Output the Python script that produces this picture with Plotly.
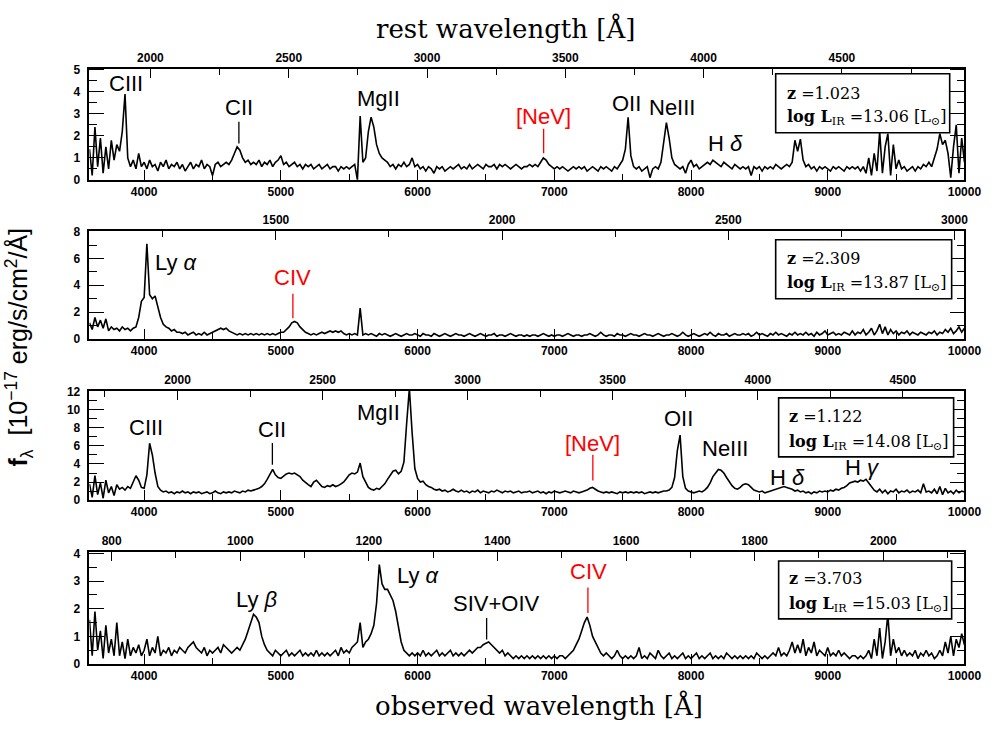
import plotly.graph_objects as go

W, H = 1007, 730

# ---------------- data ----------------
redshift = [1.023, 2.309, 1.122, 3.703]
log_lir = ["13.06", "13.87", "14.08", "15.03"]
wavelength_obs = list(range(3600, 10001, 20))  # observed-frame sampling [Angstrom]

flux_z1023 = [
    1.4, 0.2, 2.4, 0.6, 1.9, 0.3, 1.5, 0.5, 1.8, 0.9, 1.6, 1.3, 2.2, 3.9, 1.0, 0.6, 0.9, 0.5, 1.2, 0.6,
    0.8, 0.5, 0.9, 0.6, 0.7, 0.4, 0.8, 0.6, 0.9, 0.5, 0.7, 0.6, 0.8, 0.5, 0.7, 0.4, 0.6, 0.8, 0.5, 0.7,
    0.6, 0.9, 0.5, 0.7, 0.6, 0.2, 0.7, 0.8, 0.6, 0.7, 0.8, 0.7, 0.9, 1.2, 1.5, 1.35, 1.0, 0.8, 0.9, 0.7,
    0.8, 0.7, 0.9, 0.6, 0.8, 0.7, 0.9, 0.6, 0.8, 0.9, 1.1, 0.7, 0.8, 0.6, 0.7, 0.8, 0.6, 0.7, 0.5, 0.7,
    0.6, 0.7, 0.5, 0.6, 0.7, 0.5, 0.6, 0.7, 0.5, 0.6, 0.6, 0.4, 0.6, 0.5, 0.6, 0.5, 0.6, 0.7, 0.0, 2.9,
    0.8, 1.0, 2.2, 2.85, 2.4, 1.6, 1.2, 1.0, 0.9, 0.8, 0.6, 0.7, 0.5, 0.7, 0.6, 0.8, 0.6, 0.7, 1.0, 0.6,
    0.7, 0.5, 0.6, 0.4, 0.6, 0.5, 0.3, 0.6, 0.5, 0.6, 0.4, 0.5, 0.6, 0.5, 0.6, 0.7, 0.5, 0.6, 0.5, 0.7,
    0.5, 0.6, 0.7, 0.6, 0.5, 0.7, 0.6, 0.6, 0.7, 0.5, 0.7, 0.6, 0.7, 0.6, 0.5, 0.6, 0.7, 0.6, 0.5, 0.6,
    0.6, 0.7, 0.6, 0.7, 0.6, 0.8, 1.0, 0.9, 0.7, 0.6, 0.5, 0.6, 0.5, 0.6, 0.5, 0.4, 0.5, 0.6, 0.5, 0.6,
    0.5, 0.6, 0.4, 0.5, 0.6, 0.5, 0.4, 0.6, 0.5, 0.6, 0.5, 0.4, 0.6, 0.5, 0.7, 0.9, 1.4, 2.85, 1.1, 0.6,
    0.5, 0.6, 0.4, 0.5, 0.6, 0.1, 0.5, 0.6, 0.5, 0.8, 1.6, 2.6, 1.9, 1.0, 0.7, 0.6, 0.5, 0.6, 0.3, 0.7,
    0.9, 0.6, 0.7, 0.5, 0.6, 0.7, 0.8, 0.7, 0.9, 0.8, 0.7, 0.6, 0.8, 0.7, 0.6, 0.5, 0.7, 0.6, 0.5, 0.6,
    0.5, 0.6, 0.2, 0.6, 0.5, 0.6, 0.4, 0.6, 0.5, 0.6, 0.5, 0.7, 0.6, 0.5, 0.6, 0.7, 0.6, 0.8, 1.8, 1.3,
    1.85, 0.9, 0.6, 0.7, 0.5, 0.6, 0.4, 0.6, 0.5, 0.6, 0.5, 0.4, 0.6, 0.5, 0.6, 0.5, 0.4, 0.6, 0.5, 0.6,
    0.5, 0.6, 0.4, 0.6, 0.3, 1.0, 0.2, 1.2, 0.4, 2.2, 0.3, 1.5, 2.1, 0.2, 1.6, 0.5, 0.9, 0.5, 0.6, 0.4,
    0.5, 0.6, 0.4, 0.6, 0.5, 0.7, 0.6, 0.8, 0.6, 1.0, 1.4, 2.1, 1.6, 1.8, 1.2, 0.1, 1.5, 2.5, 0.3, 1.9,
    0.8,
]

flux_z2309 = [
    1.2, 0.7, 1.6, 0.9, 1.4, 0.8, 1.5, 0.6, 0.9, 0.7, 0.8, 0.6, 0.9, 0.7, 0.8, 0.6, 0.8, 0.9, 1.6, 2.8,
    3.1, 7.1, 3.3, 3.0, 3.2, 2.4, 1.6, 1.1, 0.9, 0.8, 0.6, 0.7, 0.5, 0.5, 0.4, 0.5, 0.3, 0.4, 0.5, 0.3,
    0.4, 0.3, 0.5, 0.3, 0.4, 0.5, 0.6, 0.7, 0.8, 0.7, 0.8, 0.6, 0.5, 0.4, 0.3, 0.4, 0.3, 0.4, 0.3, 0.4,
    0.3, 0.4, 0.3, 0.4, 0.3, 0.4, 0.3, 0.4, 0.3, 0.4, 0.5, 0.5, 0.7, 0.9, 1.2, 1.3, 1.2, 0.9, 0.7, 0.5,
    0.4, 0.3, 0.4, 0.3, 0.4, 0.5, 0.4, 0.5, 0.6, 0.5, 0.6, 0.5, 0.6, 0.4, 0.3, 0.4, 0.3, 0.4, 0.3, 2.3,
    0.3, 0.4, 0.3, 0.4, 0.3, 0.2, 0.4, 0.3, 0.4, 0.3, 0.2, 0.3, 0.4, 0.3, 0.2, 0.3, 0.4, 0.3, 0.3, 0.4,
    0.3, 0.2, 0.4, 0.3, 0.3, 0.2, 0.4, 0.3, 0.2, 0.3, 0.4, 0.3, 0.2, 0.3, 0.4, 0.3, 0.3, 0.2, 0.3, 0.4,
    0.3, 0.2, 0.3, 0.4, 0.3, 0.2, 0.3, 0.3, 0.4, 0.2, 0.3, 0.3, 0.2, 0.3, 0.4, 0.3, 0.2, 0.3, 0.3, 0.2,
    0.3, 0.2, 0.3, 0.3, 0.2, 0.3, 0.4, 0.3, 0.2, 0.3, 0.2, 0.3, 0.3, 0.2, 0.3, 0.4, 0.3, 0.2, 0.3, 0.3,
    0.2, 0.3, 0.3, 0.4, 0.3, 0.2, 0.3, 0.5, 0.3, 0.2, 0.3, 0.3, 0.2, 0.4, 0.3, 0.3, 0.2, 0.3, 0.4, 0.3,
    0.3, 0.2, 0.3, 0.4, 0.3, 0.3, 0.2, 0.3, 0.4, 0.3, 0.2, 0.3, 0.3, 0.4, 0.3, 0.2, 0.3, 0.5, 0.3, 0.2,
    0.3, 0.4, 0.3, 0.2, 0.3, 0.4, 0.3, 0.5, 0.3, 0.2, 0.4, 0.3, 0.3, 0.4, 0.2, 0.3, 0.4, 0.3, 0.3, 0.4,
    0.3, 0.4, 0.2, 0.3, 0.5, 0.3, 0.4, 0.3, 0.2, 0.4, 0.3, 0.5, 0.3, 0.4, 0.3, 0.2, 0.4, 0.3, 0.5, 0.3,
    0.4, 0.3, 0.5, 0.3, 0.4, 0.2, 0.5, 0.3, 0.4, 0.6, 0.3, 0.4, 0.5, 0.3, 0.4, 0.3, 0.5, 0.4, 0.3, 0.6,
    0.3, 0.5, 0.4, 0.7, 0.3, 0.5, 0.8, 0.3, 0.6, 1.1, 0.4, 0.9, 0.3, 0.7, 0.4, 0.6, 0.3, 0.5, 0.4, 0.6,
    0.3, 0.5, 0.4, 0.3, 0.5, 0.4, 0.3, 0.5, 0.4, 0.6, 0.3, 0.5, 0.4, 0.7, 0.5, 0.8, 0.4, 0.6, 0.9, 0.5,
    0.8,
]

flux_z1122 = [
    1.8, 0.3, 2.7, 0.6, 1.9, 0.2, 2.2, 0.8, 1.5, 0.5, 1.7, 1.2, 1.4, 1.1, 1.5, 1.3, 2.0, 2.7, 2.2, 1.4,
    1.3, 2.8, 6.3, 5.0, 3.0, 1.5, 1.1, 0.9, 1.0, 0.8, 0.9, 0.7, 0.9, 0.8, 1.0, 0.8, 0.9, 0.7, 0.9, 0.8,
    0.9, 0.7, 0.8, 0.9, 0.7, 0.8, 1.0, 0.8, 0.7, 0.9, 0.8, 0.9, 0.8, 1.0, 0.9, 0.8, 1.0, 0.9, 1.1, 1.0,
    1.1, 1.2, 1.3, 1.5, 1.8, 2.3, 2.9, 3.4, 2.8, 2.5, 2.4, 2.7, 2.9, 3.0, 2.9, 3.0, 2.8, 2.6, 2.2, 1.9,
    1.7, 1.5, 2.0, 2.2, 1.8, 1.5, 1.4, 1.6, 1.5, 1.7, 1.5, 1.6, 1.8, 2.0, 2.4, 2.8, 3.0, 2.9, 3.1, 4.1,
    2.6, 2.0, 1.4, 1.2, 1.1, 1.3, 1.2, 1.5, 1.8, 2.3, 2.7, 3.2, 3.3, 2.9, 3.2, 4.2, 8.5, 12.4, 7.5, 3.5,
    2.4, 2.0, 2.1, 1.7, 1.5, 1.4, 1.2, 1.1, 1.2, 1.0, 1.1, 0.9, 1.0, 1.2, 1.0, 0.9, 1.1, 0.9, 1.0, 0.8,
    1.0, 0.9, 1.1, 0.8, 1.0, 0.9, 0.8, 1.0, 0.9, 1.1, 0.9, 0.8, 1.0, 0.9, 1.0, 0.8, 0.9, 1.0, 0.8, 0.9,
    0.9, 1.0, 0.8, 0.9, 1.0, 0.8, 0.9, 0.7, 0.9, 0.8, 1.0, 0.9, 0.8, 0.9, 1.0, 0.9, 0.8, 1.0, 0.9, 0.8,
    0.9, 1.0, 1.1, 1.3, 1.4, 1.2, 1.0, 0.9, 0.8, 0.9, 0.8, 0.9, 0.8, 0.7, 0.9, 0.8, 0.9, 0.8, 0.9, 0.8,
    0.9, 0.8, 0.9, 0.7, 0.8, 0.9, 0.8, 0.9, 0.8, 0.9, 1.0, 1.0, 1.1, 1.4, 2.5, 5.5, 7.2, 2.6, 1.3, 1.0,
    0.9, 0.8, 0.9, 1.0, 0.9, 1.1, 1.4, 1.9, 2.6, 3.0, 3.4, 3.3, 3.0, 2.5, 2.0, 1.6, 1.3, 1.2, 1.4, 1.7,
    1.8, 1.7, 1.4, 1.1, 1.0, 0.9, 1.0, 0.8, 0.9, 1.0, 1.1, 1.2, 1.3, 1.4, 1.5, 1.4, 1.3, 1.2, 1.0, 1.1,
    0.9, 1.0, 0.8, 0.9, 0.7, 0.9, 0.8, 1.0, 0.9, 1.0, 0.9, 1.1, 1.0, 1.2, 1.1, 1.3, 1.4, 1.6, 1.9, 2.0,
    2.1, 2.0, 2.2, 2.1, 2.3, 1.9, 1.5, 1.1, 0.9, 1.2, 0.8, 1.1, 0.7, 1.0, 0.9, 1.2, 0.8, 1.0, 0.9, 1.1,
    0.8, 1.0, 0.9, 1.1, 0.8, 1.8, 0.9, 1.0, 0.8, 1.2, 0.7, 1.5, 0.6, 1.3, 0.8, 1.0, 0.7, 1.1, 0.8, 1.0,
    0.9,
]

flux_z3703 = [
    1.6, 0.3, 1.9, 0.5, 1.2, 0.2, 1.4, 0.4, 0.9, 0.3, 1.5, 0.3, 0.8, 0.2, 0.9, 0.3, 0.6, 0.4, 0.7, 0.3,
    0.5, 0.9, 0.3, 0.6, 0.4, 1.0, 0.3, 0.5, 0.4, 0.6, 0.3, 0.5, 0.4, 0.6, 0.5, 0.4, 0.6, 0.7, 0.8, 0.6,
    0.5, 0.4, 0.6, 0.3, 0.5, 0.4, 0.5, 0.6, 0.4, 0.7, 0.6, 0.5, 0.4, 0.5, 0.6, 0.5, 0.7, 0.9, 1.2, 1.5,
    1.8, 1.7, 1.5, 1.0, 0.7, 0.5, 0.4, 0.3, 0.5, 0.4, 0.3, 0.4, 0.5, 0.3, 0.4, 0.3, 0.4, 0.5, 0.3, 0.4,
    0.3, 0.4, 0.3, 0.5, 0.3, 0.4, 0.3, 0.4, 0.3, 0.4, 0.5, 0.3, 0.6, 0.4, 0.5, 0.4, 0.6, 0.7, 0.8, 1.5,
    0.6, 0.8, 0.9, 1.1, 1.4, 2.2, 3.6, 2.9, 2.7, 2.7, 2.5, 2.3, 1.9, 1.3, 0.8, 0.5, 0.4, 0.3, 0.4, 0.3,
    0.4, 0.3, 0.5, 0.3, 0.4, 0.3, 0.4, 0.5, 0.3, 0.4, 0.3, 0.4, 0.5, 0.3, 0.4, 0.3, 0.4, 0.3, 0.4, 0.5,
    0.4, 0.5, 0.6, 0.6, 0.7, 0.75, 0.8, 0.7, 0.6, 0.5, 0.4, 0.5, 0.3, 0.4, 0.3, 0.2, 0.3, 0.2, 0.3, 0.2,
    0.3, 0.2, 0.3, 0.2, 0.3, 0.2, 0.3, 0.2, 0.3, 0.2, 0.3, 0.2, 0.3, 0.3, 0.2, 0.3, 0.4, 0.5, 0.7, 0.9,
    1.2, 1.5, 1.7, 1.4, 1.0, 0.8, 0.6, 0.4, 0.3, 0.4, 0.3, 0.2, 0.3, 0.5, 0.3, 0.2, 0.3, 0.2, 0.3, 0.2,
    0.3, 0.6, 0.2, 0.3, 0.2, 0.4, 0.3, 0.2, 0.5, 0.3, 0.2, 0.3, 0.4, 0.2, 0.3, 0.2, 0.3, 0.4, 0.2, 0.3,
    0.2, 0.3, 0.4, 0.2, 0.3, 0.2, 0.3, 0.4, 0.2, 0.3, 0.2, 0.3, 0.2, 0.4, 0.3, 0.2, 0.3, 0.2, 0.3, 0.2,
    0.3, 0.2, 0.3, 0.2, 0.4, 0.3, 0.2, 0.3, 0.2, 0.3, 0.4, 0.3, 0.6, 0.3, 0.4, 0.3, 0.5, 0.8, 0.4, 0.7,
    0.4, 0.9, 0.3, 0.6, 0.4, 0.8, 0.3, 0.5, 0.4, 0.3, 0.6, 0.3, 0.4, 0.3, 0.5, 0.3, 0.4, 0.3, 0.2, 0.3,
    0.3, 0.2, 0.3, 0.2, 0.3, 0.5, 0.2, 0.9, 0.3, 1.3, 0.2, 0.8, 1.8, 0.3, 0.9, 0.4, 0.6, 0.3, 0.5, 0.3,
    0.4, 0.3, 0.5, 0.2, 0.4, 0.3, 0.5, 0.3, 0.4, 0.2, 0.3, 0.5, 0.3, 0.8, 0.4, 1.0, 0.3, 0.9, 0.6, 1.1,
    0.7,
]

spectra = [flux_z1023, flux_z2309, flux_z1122, flux_z3703]
for s in spectra:
    assert len(s) == len(wavelength_obs), len(s)

# line labels: (text, wavelength, flux, colour, marker (y0, y1) or None)
line_labels = [
    [("CIII", 3866, 4.38, "black", None),
     ("CII", 4693, 3.28, "black", (1.65, 2.64)),
     ("MgII", 5714, 3.71, "black", None),
     ("[NeV]", 6922, 2.90, "red", (1.21, 2.32)),
     ("OII", 7526, 3.46, "black", None),
     ("NeIII", 7864, 3.31, "black", None),
     ("H <i>δ</i>", 8253, 1.65, "black", None)],
    [("Ly <i>α</i>", 4240, 5.71, "black", None),
     ("CIV", 5088, 4.61, "red", (1.54, 3.37))],
    [("CIII", 4010, 8.07, "black", None),
     ("CII", 4938, 7.85, "black", (3.93, 6.32)),
     ("MgII", 5714, 9.70, "black", None),
     ("[NeV]", 7282, 6.32, "red", (2.18, 5.02)),
     ("OII", 7907, 9.05, "black", None),
     ("NeIII", 8245, 5.67, "black", None),
     ("H <i>δ</i>", 8706, 2.51, "black", None),
     ("H <i>γ</i>", 9252, 3.60, "black", None)],
    [("Ly <i>β</i>", 4822, 2.34, "black", None),
     ("Ly <i>α</i>", 6009, 3.20, "black", None),
     ("SIV+OIV", 6577, 2.20, "black", None),
     ("CIV", 7253, 3.34, "red", (1.85, 2.77))],
]
marker_x = {("CII", 0): 4693, ("[NeV]", 0): 6922, ("CIV", 1): 5088,
            ("CII", 2): 4938, ("[NeV]", 2): 7282, ("CIV", 3): 7246}
siv_marker = (6505, 0.89, 1.67)

# ---------------- layout geometry ----------------
X0, X1 = 91, 981
panel_px = [(64, 177), (229, 339), (392, 503), (556, 670)]
ymax = [5.05, 8.05, 12.1, 4.05]
ydtick = [1, 2, 2, 1]
yminor = [0.5, 1, 1, 0.5]
rest_dtick = [500, 500, 500, 200]
rest_minor = [250, 250, 250, 100]
box_px = [(789, 966, 69, 129), (789, 968, 238, 298), (792, 970, 399, 459), (792, 968, 565, 624)]
text_rows_px = [(89, 114), (257, 283), (418, 444), (583, 609)]

def px2lam(x):
    return 3600 + (x - X0) * 6400.0 / (X1 - X0)

def px2flux(k, y):
    top, bot = panel_px[k]
    return (bot - y) / (bot - top) * ymax[k]

tickfont = dict(family="Liberation Sans", size=12, color="black", weight="bold")
labfont = 22

fig = go.Figure()
layout = dict(width=W, height=H, margin=dict(l=0, r=0, t=0, b=0), autosize=False,
              paper_bgcolor="white", plot_bgcolor="white", showlegend=False)
shapes, annos = [], []

for k in range(4):
    nb, nt, ny = 2 * k + 1, 2 * k + 2, k + 1
    xb = "x" if nb == 1 else f"x{nb}"
    xt = f"x{nt}"
    yn = "y" if ny == 1 else f"y{ny}"
    top, bot = panel_px[k]
    z = redshift[k]
    rest_lo, rest_hi = 3600 / (1 + z), 10000 / (1 + z)
    fig.add_trace(go.Scatter(x=wavelength_obs, y=spectra[k], mode="lines",
                             line=dict(color="black", width=1.6),
                             xaxis=xb, yaxis=yn, hoverinfo="skip"))
    # invisible helper so the rest-frame (top) axis is drawn
    fig.add_trace(go.Scatter(x=[rest_lo, rest_hi], y=[0, 0], mode="markers",
                             marker=dict(opacity=0, size=1), xaxis=xt, yaxis=yn,
                             hoverinfo="skip"))
    common = dict(showline=True, linecolor="black", linewidth=1.6, ticks="inside",
                  tickwidth=1.4, tickcolor="black", showgrid=False, zeroline=False,
                  tickfont=tickfont)
    layout["xaxis" if nb == 1 else f"xaxis{nb}"] = dict(
        domain=[X0 / W, X1 / W], range=[3600, 10000], anchor=yn, dtick=1000, ticklen=10,
        tickformat="d",
        minor=dict(dtick=500, ticks="inside", ticklen=6, tickwidth=1.4, tickcolor="black"),
        **common)
    layout[f"xaxis{nt}"] = dict(
        domain=[X0 / W, X1 / W], range=[rest_lo, rest_hi], anchor=yn,
        overlaying=xb, side="top", dtick=rest_dtick[k], ticklen=9, tickformat="d",
        minor=dict(dtick=rest_minor[k], ticks="inside", ticklen=6, tickwidth=1.4, tickcolor="black"),
        **common)
    layout["yaxis" if ny == 1 else f"yaxis{ny}"] = dict(
        domain=[1 - bot / H, 1 - top / H], range=[0, ymax[k]], anchor=xb, dtick=ydtick[k],
        ticklen=15, mirror="ticks", ticklabelstandoff=5,
        minor=dict(dtick=yminor[k], ticks="inside", ticklen=8, tickwidth=1.4, tickcolor="black"),
        **common)

    for (txt, lam, fl, col, mk) in line_labels[k]:
        annos.append(dict(x=lam, y=fl, xref=xb, yref=yn, text=txt, showarrow=False,
                          xanchor="center", yanchor="middle",
                          font=dict(family="Liberation Sans", size=labfont, color=col)))
        if mk is not None:
            mx = marker_x[(txt, k)]
            shapes.append(dict(type="line", xref=xb, yref=yn, x0=mx, x1=mx, y0=mk[0], y1=mk[1],
                               line=dict(color=col, width=1.3)))
    if k == 3:
        shapes.append(dict(type="line", xref=xb, yref=yn, x0=siv_marker[0], x1=siv_marker[0],
                           y0=siv_marker[1], y1=siv_marker[2], line=dict(color="black", width=1.3)))

    bx0, bx1, by0, by1 = box_px[k]
    shapes.append(dict(type="rect", xref=xb, yref=yn, x0=px2lam(bx0), x1=px2lam(bx1),
                       y0=px2flux(k, by1), y1=px2flux(k, by0),
                       line=dict(color="black", width=1.6), fillcolor="white"))
    r1, r2 = text_rows_px[k]
    tfont = dict(family="DejaVu Serif", size=16, color="black")
    annos.append(dict(x=px2lam(bx0 + 9), y=px2flux(k, r1), xref=xb, yref=yn,
                      text=f"<b>z</b> ={z:.3f}",
                      showarrow=False, xanchor="left", yanchor="middle", font=tfont))
    annos.append(dict(x=px2lam(bx0 + 9), y=px2flux(k, r2), xref=xb, yref=yn,
                      text=f"<b>log L</b><sub>IR</sub> ={log_lir[k]} [L<sub>⊙</sub>]",
                      showarrow=False, xanchor="left", yanchor="middle", font=tfont))

annos.append(dict(x=514 / W, y=1 - 23 / H, xref="paper", yref="paper", showarrow=False,
                  text="rest wavelength [Å]", xanchor="center", yanchor="middle",
                  font=dict(family="DejaVu Serif", size=26, color="black")))
annos.append(dict(x=548 / W, y=1 - 712 / H, xref="paper", yref="paper", showarrow=False,
                  text="observed wavelength [Å]", xanchor="center", yanchor="middle",
                  font=dict(family="DejaVu Serif", size=26, color="black")))
annos.append(dict(x=19 / W, y=1 - 347 / H, xref="paper", yref="paper", showarrow=False,
                  text="<b>f</b><sub>λ</sub>  [10<sup>−17</sup> erg/s/cm<sup>2</sup>/Å]",
                  textangle=-90, xanchor="center", yanchor="middle",
                  font=dict(family="Liberation Sans", size=25, color="black")))

layout["shapes"] = shapes
layout["annotations"] = annos
fig.update_layout(**layout)
fig.write_html("out.html", config={"responsive": False},
               post_script="document.body.style.margin='0';document.body.style.overflow='hidden';")
